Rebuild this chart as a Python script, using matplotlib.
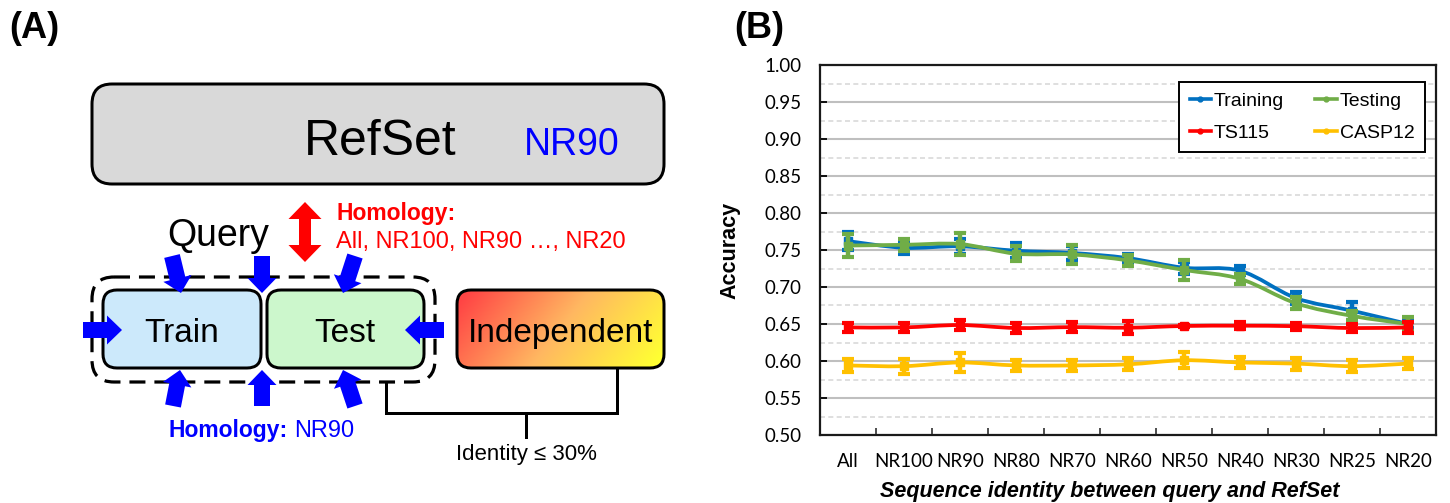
import numpy as np
import matplotlib
matplotlib.use("Agg")
import matplotlib.pyplot as plt
from matplotlib.patches import FancyBboxPatch, FancyArrow, PathPatch
from matplotlib.path import Path
from matplotlib.lines import Line2D
from matplotlib.ticker import MultipleLocator, FixedLocator

# ---------------- data (panel B) ----------------
categories = ['All', 'NR100', 'NR90', 'NR80', 'NR70', 'NR60', 'NR50', 'NR40', 'NR30', 'NR25', 'NR20']
training = [0.762, 0.753, 0.755, 0.749, 0.746, 0.739, 0.726, 0.722, 0.685, 0.668, 0.650]
training_err = [0.012, 0.009, 0.010, 0.010, 0.009, 0.006, 0.008, 0.006, 0.008, 0.012, 0.006]
testing = [0.756, 0.757, 0.758, 0.745, 0.744, 0.736, 0.723, 0.711, 0.678, 0.661, 0.650]
testing_err = [0.015, 0.008, 0.015, 0.010, 0.013, 0.007, 0.014, 0.007, 0.008, 0.006, 0.010]
ts115 = [0.6454, 0.6454, 0.6486, 0.6446, 0.6458, 0.6450, 0.6473, 0.6477, 0.6470, 0.6445, 0.6454]
ts115_err = [0.006, 0.006, 0.007, 0.007, 0.007, 0.009, 0.002, 0.005, 0.005, 0.005, 0.007]
casp12 = [0.594, 0.593, 0.598, 0.594, 0.594, 0.5955, 0.601, 0.598, 0.5965, 0.593, 0.5965]
casp12_err = [0.009, 0.010, 0.013, 0.008, 0.008, 0.008, 0.011, 0.007, 0.008, 0.008, 0.007]
series_names = ['Training', 'Testing', 'TS115', 'CASP12']
y_ticks = [0.50, 0.55, 0.60, 0.65, 0.70, 0.75, 0.80, 0.85, 0.90, 0.95, 1.00]

colors = {'Training': '#0070c0', 'Testing': '#70ad47', 'TS115': '#ff0000', 'CASP12': '#ffc000'}

W, H = 1450, 503
fig = plt.figure(figsize=(W / 100, H / 100), dpi=100)

SANS = ['Liberation Sans', 'DejaVu Sans']

# ---------------- panel A (diagram) ----------------
axA = fig.add_axes([0, 0, 700 / W, 1])
axA.set_xlim(0, 700)
axA.set_ylim(H, 0)
axA.axis('off')

def px_lw(p):
    return p * 72 / 100

def rbox(x0, y0, x1, y1, r, fc, lw=3, ls='-', ec='black', z=2):
    p = FancyBboxPatch((x0, y0), x1 - x0, y1 - y0,
                       boxstyle=f"round,pad=0,rounding_size={r}",
                       fc=fc, ec=ec, lw=px_lw(lw), ls=ls, zorder=z)
    axA.add_patch(p)
    return p

# RefSet box
rbox(92, 84, 664, 184, 20, '#d9d9d9')
axA.text(380, 155, 'RefSet', fontsize=36, family=SANS, ha='center', va='baseline', color='black')
axA.text(572, 155, 'NR90', fontsize=27, family=SANS, ha='center', va='baseline', color='#0000ff')

# red double arrow
for y_tip in (202, 262):
    axA.add_patch(FancyArrow(305, 232, 0, y_tip - 232, width=12, head_width=33,
                             head_length=17, length_includes_head=True,
                             fc='#ff0000', ec='none', zorder=3))
axA.text(336, 220, 'Homology:', fontsize=16.5, family=SANS, fontweight='bold',
         ha='left', va='baseline', color='#ff0000')
axA.text(336, 248, 'All, NR100, NR90 \u2026, NR20', fontsize=17, family=SANS,
         ha='left', va='baseline', color='#ff0000')

axA.text(218, 246, 'Query', fontsize=27, family=SANS, ha='center', va='baseline')

# dashed group box
rbox(92, 277, 435, 382, 22, 'none', lw=3.2, ls=(0, (5, 2.8)), z=4)
# train / test
rbox(103, 290, 261, 368, 14, '#cce9fb')
rbox(267, 290, 424, 368, 14, '#ccf7cc')
axA.text(182, 342, 'Train', fontsize=24, family=SANS, ha='center', va='baseline', zorder=5)
axA.text(345, 342, 'Test', fontsize=24, family=SANS, ha='center', va='baseline', zorder=5)

# independent with gradient
ind = rbox(457, 290, 664, 368, 14, 'none', z=3)
gx = np.linspace(0, 1, 200)
gy = np.linspace(0, 1, 80)
GX, GY = np.meshgrid(gx, gy)
t = np.clip(0.85 * GX + 0.25 * GY - 0.05, 0, 1)
c0 = np.array([1.0, 0.27, 0.27])
c1 = np.array([1.0, 0.72, 0.38])
c2 = np.array([1.0, 1.0, 0.2])
img = np.where(t[..., None] < 0.5,
               c0 + (c1 - c0) * (t[..., None] / 0.5),
               c1 + (c2 - c1) * ((t[..., None] - 0.5) / 0.5))
im = axA.imshow(img, extent=(457, 664, 368, 290), aspect='auto', zorder=2)
clip = FancyBboxPatch((457, 290), 207, 78, boxstyle="round,pad=0,rounding_size=14",
                      transform=axA.transData, fc='none', ec='none')
axA.add_patch(clip)
im.set_clip_path(clip)
axA.set_xlim(0, 700)
axA.set_ylim(H, 0)
axA.text(561, 342, 'Independent', fontsize=24, family=SANS, ha='center', va='baseline', zorder=5)

# blue arrows
blue = '#0000ff'
arrows = [((172, 256), (181, 293)), ((262, 256), (262, 293)), ((355, 256), (343, 293)),
          ((173, 406), (180, 370)), ((262, 406), (262, 370)), ((355, 406), (343, 370)),
          ((83, 330), (122, 330)), ((444, 330), (405, 330))]
for (x0, y0), (x1, y1) in arrows:
    axA.add_patch(FancyArrow(x0, y0, x1 - x0, y1 - y0, width=16, head_width=29,
                             head_length=15, length_includes_head=True,
                             fc=blue, ec='none', zorder=6))

axA.text(168, 437, 'Homology:', fontsize=16.5, family=SANS, fontweight='bold',
         ha='left', va='baseline', color=blue)
axA.text(294, 437, 'NR90', fontsize=17, family=SANS, ha='left', va='baseline', color=blue)

# bracket
axA.plot([386, 386, 617, 617], [383, 413, 413, 368], color='black', lw=px_lw(3),
         solid_joinstyle='miter', zorder=3)
axA.plot([526, 526], [413, 437], color='black', lw=px_lw(3), zorder=3)
axA.text(526, 460, 'Identity \u2264 30%', fontsize=16, family=SANS, ha='center', va='baseline')

fig.text(34 / W, 1 - 28 / H, '(A)', fontsize=26, fontweight='bold', family=SANS, ha='center', va='center')
fig.text(759 / W, 1 - 28 / H, '(B)', fontsize=26, fontweight='bold', family=SANS, ha='center', va='center')

# ---------------- panel B (chart) ----------------
L, R, T, B = 820, 1436, 65, 435
ax = fig.add_axes([L / W, 1 - B / H, (R - L) / W, (B - T) / H])
x = np.arange(len(categories))
ax.set_xlim(-0.5, len(categories) - 0.5)
ax.set_ylim(0.5, 1.0)

ax.yaxis.set_major_locator(FixedLocator(y_ticks))
ax.yaxis.set_minor_locator(MultipleLocator(0.025))
ax.set_yticklabels([f'{v:.2f}' for v in y_ticks])
ax.grid(axis='y', which='major', color='#bfbfbf', lw=1.5, ls='-')
ax.grid(axis='y', which='minor', color='#d9d9d9', lw=1.2, ls=(0, (3, 2)))
ax.set_axisbelow(True)

ax.set_xticks(x)
ax.set_xticklabels(categories)
ax.xaxis.set_minor_locator(FixedLocator(np.arange(0.5, len(categories) - 1, 1.0)))
ax.tick_params(axis='x', which='major', length=0, pad=13, labelsize=13.5)
ax.tick_params(axis='x', which='minor', length=5, width=1.3, direction='in', color='#404040')
ax.tick_params(axis='y', which='major', length=5, width=1.3, direction='in', labelsize=13.5, pad=13)
ax.tick_params(axis='y', which='minor', length=0)
for lab in ax.get_xticklabels() + ax.get_yticklabels():
    lab.set_family(['Lato', 'DejaVu Sans'])

for s in ax.spines.values():
    s.set_color('#1a1a1a')
    s.set_linewidth(1.6)

def smooth_path(xs, ys):
    pts = np.column_stack([xs, ys]).astype(float)
    n = len(pts)
    verts = [pts[0]]
    codes = [Path.MOVETO]
    for i in range(n - 1):
        p0 = pts[max(i - 1, 0)]
        p1 = pts[i]
        p2 = pts[i + 1]
        p3 = pts[min(i + 2, n - 1)]
        c1 = p1 + (p2 - p0) / 6.0
        c2 = p2 - (p3 - p1) / 6.0
        verts += [c1, c2, p2]
        codes += [Path.CURVE4] * 3
    return Path(verts, codes)

series = [('Training', training, training_err), ('Testing', testing, testing_err),
          ('TS115', ts115, ts115_err), ('CASP12', casp12, casp12_err)]
for k, (name, vals, errs) in enumerate(series):
    c = colors[name]
    z = 3 + k
    ax.add_patch(PathPatch(smooth_path(x, vals), fc='none', ec=c, lw=2.7,
                           capstyle='round', joinstyle='round', zorder=z))
    ax.errorbar(x, vals, yerr=errs, fmt='none', ecolor=c, elinewidth=3.2,
                capsize=4.0, capthick=3.0, zorder=z + 0.2)
    ax.plot(x, vals, 's', ms=5.5, color=c, mec=c, zorder=z + 0.3)

ax.set_ylabel('Accuracy', fontsize=15.5, fontweight='bold', family=SANS)
ax.set_xlabel('Sequence identity between query and RefSet', fontsize=15.5,
              fontweight='bold', fontstyle='italic', family=SANS)
ax.xaxis.set_label_coords((1110 - L) / (R - L), -(481 - B) / (B - T))
ax.yaxis.set_label_coords(-(L - 740) / (R - L), 0.5)

handles = [Line2D([0], [0], color=colors[n], lw=2.6, marker='o', ms=3.5) for n in series_names]
order = [0, 2, 1, 3]
leg = ax.legend([handles[i] for i in order], [series_names[i] for i in order],
                ncol=2, loc='upper right', bbox_to_anchor=((1425 - L) / (R - L), (B - 82) / (B - T)),
                frameon=True, fancybox=False, edgecolor='black', framealpha=1,
                prop={'family': SANS, 'size': 14}, handlelength=1.1, handletextpad=0.15,
                columnspacing=1.6, labelspacing=0.7, borderpad=0.55, borderaxespad=0)
leg.get_frame().set_linewidth(1.4)
leg.set_zorder(20)

fig.savefig('out.png', dpi=100)
